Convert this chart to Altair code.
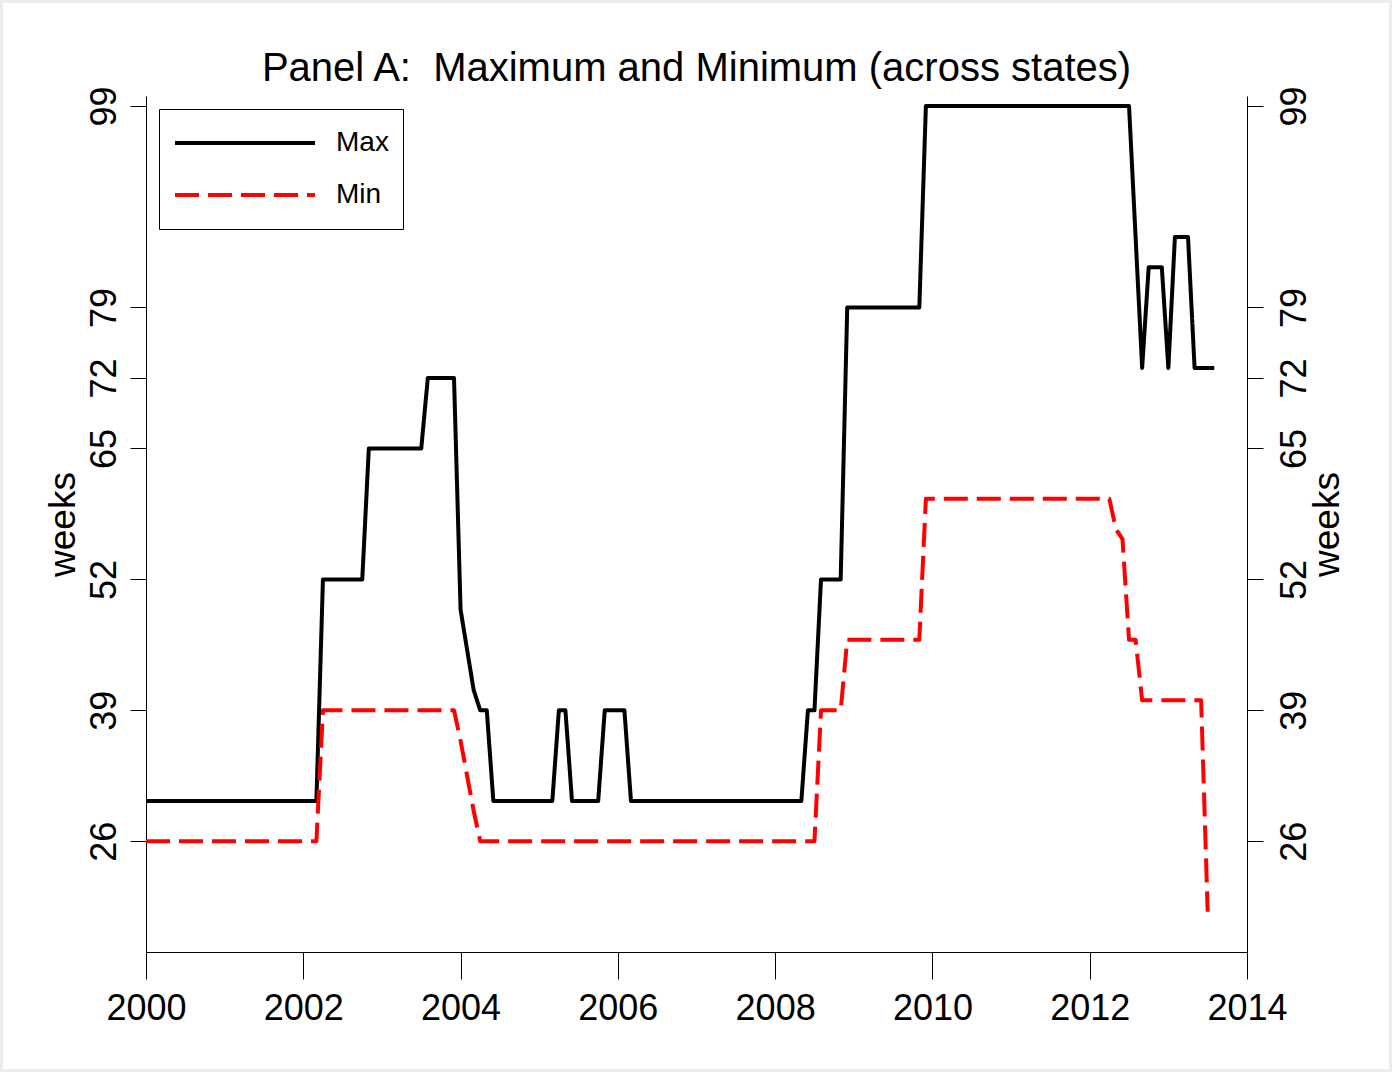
import altair as alt
import pandas as pd

# ---- data (monthly kink points) ----
max_months = ["2000-01", "2002-03", "2002-04", "2002-10", "2002-11", "2003-07", "2003-08",
              "2003-12", "2004-01", "2004-02", "2004-03", "2004-04", "2004-05", "2004-06",
              "2005-03", "2005-04", "2005-05", "2005-06", "2005-10", "2005-11", "2006-02",
              "2006-03", "2008-05", "2008-06", "2008-07", "2008-08", "2008-11", "2008-12",
              "2009-11", "2009-12", "2012-07", "2012-08", "2012-09", "2012-10", "2012-12",
              "2013-01", "2013-02", "2013-04", "2013-05", "2013-08"]
max_values = [30, 30, 52, 52, 65, 65, 72,
              72, 49, 45, 41, 39, 39, 30,
              30, 39, 39, 30, 30, 39, 39,
              30, 30, 39, 39, 52, 52, 79,
              79, 99, 99, 86, 73, 83, 83,
              73, 86, 86, 73, 73]

min_months = ["2000-01", "2002-03", "2002-04", "2003-12", "2004-01", "2004-02", "2004-03",
              "2004-04", "2008-07", "2008-08", "2008-11", "2008-12", "2009-11", "2009-12",
              "2012-04", "2012-05", "2012-06", "2012-07", "2012-08", "2012-09", "2013-06",
              "2013-07"]
min_values = [26, 26, 39, 39, 36, 32.5, 29,
              26, 26, 39, 39, 46, 46, 60,
              60, 57, 56, 46, 46, 40, 40,
              19]

series_names = ["Max", "Min"]
x_ticks = [2000, 2002, 2004, 2006, 2008, 2010, 2012, 2014]
y_ticks = [26, 39, 52, 65, 72, 79, 99]


def to_year(s):
    y, m = s.split("-")
    return int(y) + (int(m) - 1) / 12.0


df = pd.concat([
    pd.DataFrame({"t": [to_year(s) for s in max_months], "v": max_values, "series": "Max",
                  "order": range(len(max_months))}),
    pd.DataFrame({"t": [to_year(s) for s in min_months], "v": min_values, "series": "Min",
                  "order": range(len(min_months))}),
], ignore_index=True)

FONT = "Liberation Sans"

x_enc = alt.X(
    "t:Q",
    scale=alt.Scale(domain=[2000, 2014], nice=False, zero=False),
    axis=alt.Axis(values=x_ticks, format="d", title=None, tickSize=27, labelFontSize=36,
                  labelPadding=12, grid=False, labelFont=FONT, labelColor="black",
                  domainColor="black", tickColor="black", labelFlush=False),
)

y_scale = alt.Scale(domain=[15, 100], nice=False, zero=False)

lines = alt.Chart(df).mark_line(strokeWidth=4, strokeJoin="round", strokeCap="butt").encode(
    x=x_enc,
    y=alt.Y("v:Q", scale=y_scale,
            axis=alt.Axis(orient="left", values=y_ticks, title="weeks", tickSize=16,
                          labelAngle=270, labelAlign="center", labelBaseline="bottom",
                          labelFontSize=36, labelPadding=7, labelFont=FONT, labelColor="black",
                          titleFont=FONT, titleFontSize=37, titleFontWeight="normal",
                          titleColor="black", titlePadding=4, grid=False,
                          domainColor="black", tickColor="black")),
    color=alt.Color("series:N", scale=alt.Scale(domain=series_names, range=["#000000", "#ff0000"]),
                    legend=alt.Legend(title=None)),
    strokeDash=alt.StrokeDash("series:N",
                              scale=alt.Scale(domain=series_names, range=[[1, 0], [24, 9]]),
                              legend=alt.Legend(title=None)),
    order="order:Q",
)

right = alt.Chart(df).mark_line(opacity=0).encode(
    x=x_enc,
    y=alt.Y("v:Q", scale=y_scale,
            axis=alt.Axis(orient="right", values=y_ticks, title="weeks", tickSize=16,
                          labelAngle=270, labelAlign="center", labelBaseline="top",
                          labelFontSize=36, labelPadding=14, labelFont=FONT, labelColor="black",
                          titleFont=FONT, titleFontSize=37, titleFontWeight="normal",
                          titleColor="black", titleAngle=270, titleBaseline="top",
                          titlePadding=-3, grid=False,
                          domainColor="black", tickColor="black")),
    detail="series:N",
    order="order:Q",
)

frame = alt.Chart(pd.DataFrame({"a": [0]})).mark_rect(
    fill=None, stroke="#ececec", strokeWidth=3
).encode(
    x=alt.value(-144.5), x2=alt.value(1244.5), y=alt.value(-94.5), y2=alt.value(974.5)
)

chart = alt.layer(frame, lines, right).resolve_scale(y="independent").properties(
    width=1101,
    height=856,
    title=alt.TitleParams("Panel A:\u00a0 Maximum and Minimum (across states)", fontSize=40,
                          font=FONT, fontWeight="normal", color="black", anchor="middle",
                          frame="group", baseline="alphabetic", offset=0, dy=121),
    autosize=alt.AutoSizeParams(type="none"),
    padding={"left": 146, "top": 96, "right": 145, "bottom": 120},
    background="white",
).configure_view(stroke=None).configure_legend(
    orient="none", legendX=13, legendY=13, padding=14, strokeColor="black", fillColor="white",
    symbolType="stroke", symbolSize=19600, symbolStrokeWidth=4, labelFontSize=28,
    labelFont=FONT, labelColor="black", labelOffset=19, clipHeight=40, rowPadding=12,
    cornerRadius=0,
)

chart.save("out.html", embed_options={"renderer": "svg", "actions": False})
